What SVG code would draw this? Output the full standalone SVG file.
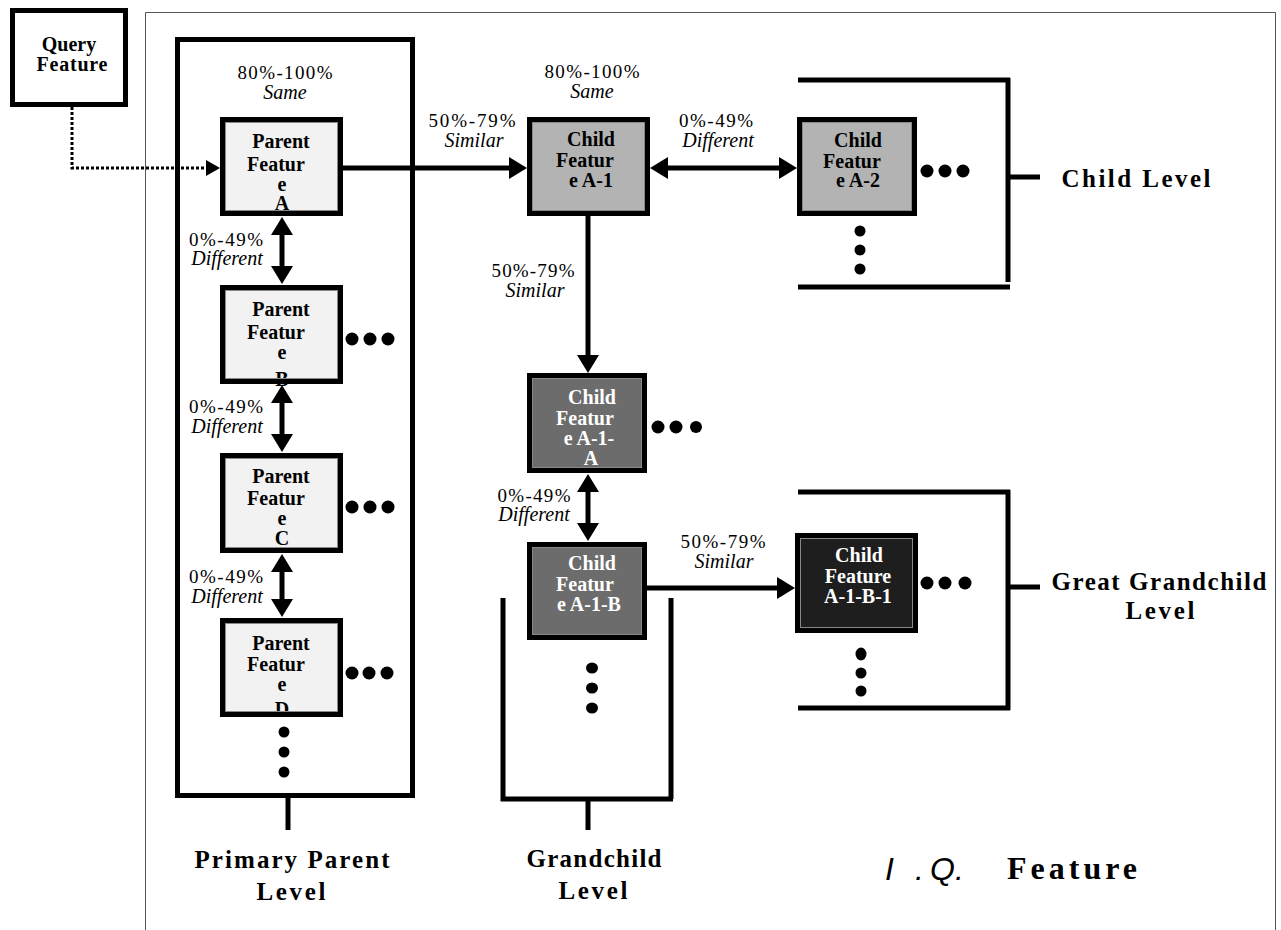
<svg xmlns="http://www.w3.org/2000/svg" width="1281" height="930" viewBox="0 0 1281 930">
<style>
.frame{fill:none;stroke:#555;stroke-width:1}
.thick{fill:none;stroke:#000;stroke-width:5}
.border{fill:none;stroke:#000;stroke-width:5}
.inner{fill:none;stroke:#888;stroke-width:1}
.conn{fill:none;stroke:#000;stroke-width:5}
.dotted{fill:none;stroke:#000;stroke-width:3;stroke-dasharray:3 2}
.bt{font-family:"Liberation Serif","Times New Roman",serif;font-weight:bold;font-size:20px;text-anchor:middle}
.bw{fill:#fff}
.pct{font-family:"Liberation Serif","Times New Roman",serif;font-size:19px;text-anchor:middle}
.it{font-family:"Liberation Serif","Times New Roman",serif;font-size:20px;font-style:italic;text-anchor:middle}
.lvl{font-family:"Liberation Serif","Times New Roman",serif;font-weight:bold;font-size:25px;text-anchor:middle}
.dot{fill:#000}
</style>
<defs>
<marker id="ah" markerUnits="userSpaceOnUse" markerWidth="20" markerHeight="22" refX="2" refY="11" orient="auto-start-reverse" viewBox="0 0 20 22">
<path d="M0,0 L18,11 L0,22 z" fill="#000"/>
</marker>
<marker id="ahs" markerUnits="userSpaceOnUse" markerWidth="14" markerHeight="16" refX="0" refY="8" orient="auto" viewBox="0 0 14 16">
<path d="M0,0 L14,8 L0,16 z" fill="#000"/>
</marker>
</defs>
<rect width="1281" height="930" fill="#fff"/>
<g id="frame">
<path class="frame" d="M145.5,930 V12.5 H1275.5 V930"/>
</g>
<g id="query-feature">
<rect x="12.5" y="10.5" width="113" height="94" fill="#fff" stroke="#000" stroke-width="5"/>
<text class="bt" x="69" y="51" font-size="21">Query</text>
<text class="bt" x="72" y="71" font-size="21" textLength="71" lengthAdjust="spacing">Feature</text>
</g>
<g id="primary-parent-level">
<rect class="thick" x="177.5" y="39.5" width="235" height="756"/>
<line class="thick" x1="288" y1="798" x2="288" y2="830"/>
<text class="lvl" x="292" y="868" textLength="195" lengthAdjust="spacing">Primary Parent</text>
<text class="lvl" x="291" y="900" textLength="69" lengthAdjust="spacing">Level</text>
<text class="pct" x="285" y="79" textLength="95" lengthAdjust="spacing">80%-100%</text>
<text class="it" x="285" y="99">Same</text>
</g>
<g id="parent-a">
<rect x="222.5" y="119.5" width="118" height="94" fill="#f2f2f2"/>
<text class="bt" x="281" y="148">Parent</text>
<text class="bt" x="276" y="171">Featur</text>
<text class="bt" x="282" y="191">e</text>
<text class="bt" x="282" y="210">A</text>
<rect class="inner" x="225.5" y="122.5" width="112" height="88"/>
<rect class="border" x="222.5" y="119.5" width="118" height="94"/>
</g>
<g id="parent-b">
<rect x="222.5" y="287.5" width="118" height="94" fill="#f2f2f2"/>
<text class="bt" x="281" y="316">Parent</text>
<text class="bt" x="276" y="339">Featur</text>
<text class="bt" x="282" y="359">e</text>
<text class="bt" x="282" y="386">B</text>
<rect class="inner" x="225.5" y="290.5" width="112" height="88"/>
<rect class="border" x="222.5" y="287.5" width="118" height="94"/>
<circle class="dot" cx="352" cy="339" r="6.5"/><circle class="dot" cx="370" cy="339" r="6.5"/><circle class="dot" cx="388" cy="339" r="6.5"/>
</g>
<g id="parent-c">
<rect x="222.5" y="455.5" width="118" height="95" fill="#f2f2f2"/>
<text class="bt" x="281" y="483">Parent</text>
<text class="bt" x="276" y="505">Featur</text>
<text class="bt" x="282" y="525">e</text>
<text class="bt" x="282" y="545">C</text>
<rect class="inner" x="225.5" y="458.5" width="112" height="89"/>
<rect class="border" x="222.5" y="455.5" width="118" height="95"/>
<circle class="dot" cx="352" cy="507" r="6.5"/><circle class="dot" cx="370" cy="507" r="6.5"/><circle class="dot" cx="388" cy="507" r="6.5"/>
</g>
<g id="parent-d">
<rect x="222.5" y="620.5" width="118" height="94" fill="#f2f2f2"/>
<text class="bt" x="281" y="650">Parent</text>
<text class="bt" x="276" y="671">Featur</text>
<text class="bt" x="282" y="691">e</text>
<text class="bt" x="282" y="716">D</text>
<rect class="inner" x="225.5" y="623.5" width="112" height="88"/>
<rect class="border" x="222.5" y="620.5" width="118" height="94"/>
<circle class="dot" cx="352" cy="673" r="6.5"/><circle class="dot" cx="369" cy="673" r="6.5"/><circle class="dot" cx="387" cy="673" r="6.5"/>
<circle class="dot" cx="284" cy="732" r="5.5"/><circle class="dot" cx="284" cy="752" r="5.5"/><circle class="dot" cx="284" cy="772" r="5.5"/>
</g>
<g id="child-a-1">
<rect x="529.5" y="119.5" width="118" height="94" fill="#b3b3b3"/>
<text class="bt" x="591" y="146">Child</text>
<text class="bt" x="585" y="167">Featur</text>
<text class="bt" x="591" y="187">e A-1</text>
<rect class="inner" x="532.5" y="122.5" width="112" height="88"/>
<rect class="border" x="529.5" y="119.5" width="118" height="94"/>
<text class="pct" x="592" y="78" textLength="95" lengthAdjust="spacing">80%-100%</text>
<text class="it" x="592" y="98">Same</text>
</g>
<g id="child-level">
<path class="thick" d="M798,80 H1010 M1008,78 V282 M798,287 H1010 M1008,177 H1040"/>
<text class="lvl" x="1136" y="187" textLength="149" lengthAdjust="spacing">Child Level</text>
</g>
<g id="child-a-2">
<rect x="799.5" y="119.5" width="115" height="94" fill="#b3b3b3"/>
<text class="bt" x="858" y="147">Child</text>
<text class="bt" x="852" y="168">Featur</text>
<text class="bt" x="858" y="187">e A-2</text>
<rect class="inner" x="802.5" y="122.5" width="109" height="88"/>
<rect class="border" x="799.5" y="119.5" width="115" height="94"/>
<circle class="dot" cx="927" cy="171" r="6.5"/><circle class="dot" cx="945" cy="171" r="6.5"/><circle class="dot" cx="963" cy="171" r="6.5"/>
<circle class="dot" cx="860" cy="231" r="5.5"/><circle class="dot" cx="860" cy="250" r="5.5"/><circle class="dot" cx="860" cy="269" r="5.5"/>
</g>
<g id="child-a-1-a">
<rect x="529.5" y="375.5" width="115" height="95" fill="#6c6c6c"/>
<text class="bt bw" x="592" y="404">Child</text>
<text class="bt bw" x="585" y="425">Featur</text>
<text class="bt bw" x="589" y="445">e A-1-</text>
<text class="bt bw" x="591" y="465">A</text>
<rect class="inner" x="532.5" y="378.5" width="109" height="89"/>
<rect class="border" x="529.5" y="375.5" width="115" height="95"/>
<circle class="dot" cx="658" cy="427" r="6.5"/><circle class="dot" cx="676" cy="427" r="6.5"/><circle class="dot" cx="696" cy="427" r="6"/>
</g>
<g id="grandchild-level">
<path class="thick" d="M503,598 V799 H673 M671,598 V799 M588,799 V830"/>
<text class="lvl" x="594" y="867" textLength="135" lengthAdjust="spacing">Grandchild</text>
<text class="lvl" x="593" y="899" textLength="69" lengthAdjust="spacing">Level</text>
</g>
<g id="child-a-1-b">
<rect x="529.5" y="544.5" width="115" height="93" fill="#6c6c6c"/>
<text class="bt bw" x="592" y="570">Child</text>
<text class="bt bw" x="585" y="591">Featur</text>
<text class="bt bw" x="589" y="611">e A-1-B</text>
<rect class="inner" x="532.5" y="547.5" width="109" height="87"/>
<rect class="border" x="529.5" y="544.5" width="115" height="93"/>
<ellipse class="dot" cx="592" cy="668" rx="6" ry="5.5"/><ellipse class="dot" cx="592" cy="688" rx="6" ry="5.5"/><ellipse class="dot" cx="592" cy="708" rx="6" ry="5.5"/>
</g>
<g id="great-grandchild-level">
<path class="thick" d="M798,492 H1010 M1008,490 V710 M798,708 H1010 M1008,587 H1040"/>
<text class="lvl" x="1159" y="590" textLength="215" lengthAdjust="spacing">Great Grandchild</text>
<text class="lvl" x="1160" y="619" textLength="69" lengthAdjust="spacing">Level</text>
</g>
<g id="child-a-1-b-1">
<rect x="797.5" y="535.5" width="118" height="95" fill="#1e1e1e"/>
<text class="bt bw" x="859" y="562">Child</text>
<text class="bt bw" x="858" y="583">Feature</text>
<text class="bt bw" x="858" y="603">A-1-B-1</text>
<rect class="inner" x="800.5" y="538.5" width="112" height="89"/>
<rect class="border" x="797.5" y="535.5" width="118" height="95"/>
<circle class="dot" cx="927" cy="583" r="6.5"/><circle class="dot" cx="945" cy="583" r="6.5"/><circle class="dot" cx="965" cy="583" r="6.5"/>
<ellipse class="dot" cx="861" cy="654" rx="5.5" ry="6.5"/><circle class="dot" cx="861" cy="673" r="5.5"/><circle class="dot" cx="861" cy="691" r="5.5"/>
</g>
<g id="connectors">
<polyline class="dotted" points="72,107 72,168 206,168" marker-end="url(#ahs)"/>
<line class="conn" x1="343" y1="168" x2="511" y2="168" marker-end="url(#ah)"/>
<line class="conn" x1="666" y1="168" x2="781" y2="168" marker-start="url(#ah)" marker-end="url(#ah)"/>
<line class="conn" x1="588" y1="216" x2="588" y2="357" marker-end="url(#ah)"/>
<line class="conn" x1="588" y1="490" x2="588" y2="525" marker-start="url(#ah)" marker-end="url(#ah)"/>
<line class="conn" x1="647" y1="588" x2="779" y2="588" marker-end="url(#ah)"/>
<line class="conn" x1="282" y1="233" x2="282" y2="268" marker-start="url(#ah)" marker-end="url(#ah)"/>
<line class="conn" x1="282" y1="401" x2="282" y2="436" marker-start="url(#ah)" marker-end="url(#ah)"/>
<line class="conn" x1="282" y1="570" x2="282" y2="601" marker-start="url(#ah)" marker-end="url(#ah)"/>
</g>
<g id="connector-labels">
<text class="pct" x="472" y="127" textLength="87" lengthAdjust="spacing">50%-79%</text>
<text class="it" x="474" y="147">Similar</text>
<text class="pct" x="716" y="127" textLength="74" lengthAdjust="spacing">0%-49%</text>
<text class="it" x="718" y="147">Different</text>
<text class="pct" x="533" y="277" textLength="83" lengthAdjust="spacing">50%-79%</text>
<text class="it" x="535" y="297">Similar</text>
<text class="pct" x="226" y="246" textLength="74" lengthAdjust="spacing">0%-49%</text>
<text class="it" x="227" y="265">Different</text>
<text class="pct" x="226" y="413" textLength="74" lengthAdjust="spacing">0%-49%</text>
<text class="it" x="227" y="433">Different</text>
<text class="pct" x="226" y="583" textLength="74" lengthAdjust="spacing">0%-49%</text>
<text class="it" x="227" y="603">Different</text>
<text class="pct" x="534" y="502" textLength="73" lengthAdjust="spacing">0%-49%</text>
<text class="it" x="534" y="521">Different</text>
<text class="pct" x="723" y="548" textLength="85" lengthAdjust="spacing">50%-79%</text>
<text class="it" x="724" y="568">Similar</text>
</g>
<g id="iq-feature">
<text y="880" font-family="'Liberation Sans',Arial,sans-serif" font-style="italic" font-size="32"><tspan x="885">I</tspan><tspan x="915">.</tspan><tspan x="930">Q.</tspan></text>
<text x="1007" y="879" font-family="'Liberation Serif','Times New Roman',serif" font-weight="bold" font-size="32" textLength="130" lengthAdjust="spacing">Feature</text>
</g>
</svg>
